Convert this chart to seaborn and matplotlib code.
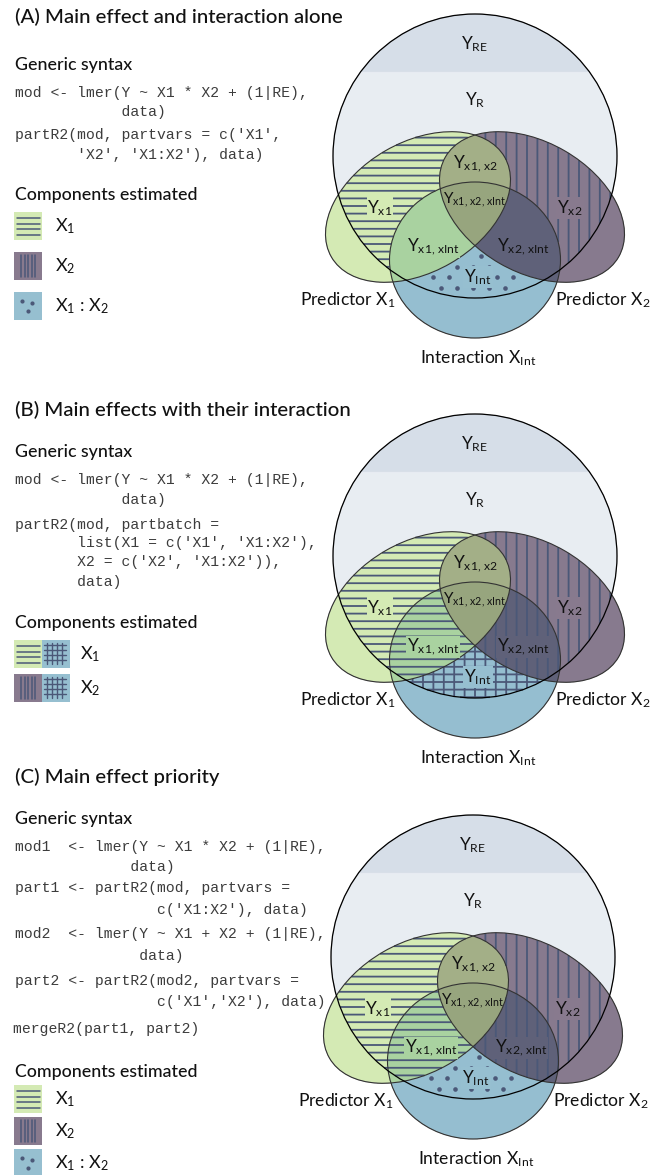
#!/usr/bin/env python3
"""
Venn-style schematic of partR2 variance partitioning with an interaction term.
Three panels: (A) main effects and interaction alone, (B) batches, (C) priority.
"""

import numpy as np
import matplotlib
matplotlib.use('Agg')
import matplotlib.pyplot as plt
from matplotlib.patches import Circle, Ellipse, Rectangle
import seaborn as sns


# ---- text content ----
panel_titles = ['(A) Main effect and interaction alone',
                '(B) Main effects with their interaction',
                '(C) Main effect priority']
head_syntax = 'Generic syntax'
head_components = 'Components estimated'

code_a = ["mod <- lmer(Y ~ X1 * X2 + (1|RE),",
          "            data)",
          "partR2(mod, partvars = c('X1',",
          "       'X2', 'X1:X2'), data)"]
code_b = ["mod <- lmer(Y ~ X1 * X2 + (1|RE),",
          "            data)",
          "partR2(mod, partbatch =",
          "       list(X1 = c('X1', 'X1:X2'),",
          "       X2 = c('X2', 'X1:X2')),",
          "       data)"]
code_c = ["mod1  <- lmer(Y ~ X1 * X2 + (1|RE),",
          "             data)",
          "part1 <- partR2(mod, partvars =",
          "                c('X1:X2'), data)",
          "mod2  <- lmer(Y ~ X1 + X2 + (1|RE),",
          "              data)",
          "part2 <- partR2(mod2, partvars =",
          "                c('X1','X2'), data)",
          "mergeR2(part1, part2)"]

legend_a = ['X$_1$', 'X$_2$', 'X$_1$ : X$_2$']
legend_b = ['X$_1$', 'X$_2$']
legend_c = ['X$_1$', 'X$_2$', 'X$_1$ : X$_2$']
swatch_a = [['h'], ['v'], ['dots']]
swatch_b = [['h', 'grid'], ['v', 'grid']]
swatch_c = [['h'], ['v'], ['dots']]

region_names = ['RE', 'R', 'x1x2', 'x1x2xInt', 'x1', 'x2', 'x1xInt', 'x2xInt', 'Int']
region_text = [r'Y$_\mathrm{RE}$', r'Y$_\mathrm{R}$', r'Y$_\mathrm{x1,\,x2}$',
               r'Y$_\mathrm{x1,\,x2,\,xInt}$', r'Y$_\mathrm{x1}$', r'Y$_\mathrm{x2}$',
               r'Y$_\mathrm{x1,\,xInt}$', r'Y$_\mathrm{x2,\,xInt}$', r'Y$_\mathrm{Int}$']
set_names = ['Predictor X$_1$', 'Predictor X$_2$', 'Interaction X$_\\mathrm{Int}$']

# ---- colours ----
C_WHITE_R = '#e9edf3'
C_RE = '#d7dee8'
FILL = {(1, 0, 0): '#d4eab4', (0, 1, 0): '#887a8e', (0, 0, 1): '#96bfd0',
        (1, 1, 0): '#a3af88', (1, 0, 1): '#a9d2a0', (0, 1, 1): '#5f6179',
        (1, 1, 1): '#97a57f'}
INK = '#4b5878'

# ---- layout (pixels) ----
R = 142
CENTERS = [(475, 156), (475, 556), (473, 957)]
LABEL_OFF = {'RE': (0, -112), 'R': (0, -56), 'x1x2': (0, 8), 'x1x2xInt': (0, 44),
             'x1': (-95, 52), 'x2': (95, 52), 'x1xInt': (-42, 91),
             'x2xInt': (48, 91), 'Int': (3, 121)}
LABEL_KEY = {'x1': (1, 0, 0), 'x2': (0, 1, 0), 'x1xInt': (1, 0, 1),
             'x2xInt': (0, 1, 1), 'Int': (0, 0, 1)}
SET_OFF = [(-127, 144), (128, 144), (3, 202)]

TEXT_Y = [dict(title=17, syntax=65, code=[93, 112, 135, 155], comp=195,
               swatch=[212, 252, 292], legx=55),
          dict(title=410, syntax=452, code=[480, 500, 525, 543, 562, 582], comp=623,
               swatch=[640, 674], legx=80),
          dict(title=777, syntax=819,
               code=[847, 867, 888, 910, 934, 956, 981, 1002, 1029], comp=1072,
               swatch=[1085, 1117, 1149], legx=55)]


def in_ellipse(X, Y, ex, ey, a, b, tilt):
    """Inside test for an ellipse tilted `tilt` degrees (visually, y axis down)."""
    t = np.deg2rad(tilt)
    dx, dy = X - ex, Y - ey
    u = dx * np.cos(t) - dy * np.sin(t)
    v = dx * np.sin(t) + dy * np.cos(t)
    return (u / a) ** 2 + (v / b) ** 2 <= 1


def sets(X, Y, cx, cy):
    circ = (X - cx) ** 2 + (Y - cy) ** 2 <= R ** 2
    g = in_ellipse(X, Y, cx - 57, cy + 51, 100, 65, 30)
    p = in_ellipse(X, Y, cx + 57, cy + 51, 100, 65, -30)
    b = ((X - cx) / 85.5) ** 2 + ((Y - cy - 104) / 78) ** 2 <= 1
    return circ, g, p, b


def hatch_masks(panel, circ, g, p, b):
    """Which regions carry horizontal, vertical and dotted hatching."""
    if panel == 0:
        return circ & g & ~p & ~b, circ & p & ~g & ~b, circ & b & ~g & ~p
    if panel == 1:
        return circ & ~p & (g | b), circ & ~g & (p | b), np.zeros_like(circ)
    return circ & g & ~p, circ & p & ~g, circ & b & ~g & ~p


def draw_venn(ax, panel):
    cx, cy = CENTERS[panel]
    x0, x1, y0, y1 = 315, 642, cy - 146, cy + 188
    step = 0.25
    xs = np.arange(x0, x1, step) + step / 2
    ys = np.arange(y0, y1, step) + step / 2
    X, Y = np.meshgrid(xs, ys)
    circ, g, p, b = sets(X, Y, cx, cy)

    rgba = np.zeros(X.shape + (4,))
    rgba[circ] = matplotlib.colors.to_rgba(C_WHITE_R)
    rgba[circ & (Y < cy - 84)] = matplotlib.colors.to_rgba(C_RE)
    for key, col in FILL.items():
        m = (g == bool(key[0])) & (p == bool(key[1])) & (b == bool(key[2]))
        rgba[m] = matplotlib.colors.to_rgba(col)
    ax.imshow(rgba, extent=(x0, x1, y1, y0), origin='upper',
              interpolation='antialiased', zorder=1)

    # hatching
    hx = np.arange(x0, x1, 0.2)
    for yy in np.arange(cy - 140, cy + 185, 7.6):
        c, gg, pp, bb = sets(hx, np.full_like(hx, yy), cx, cy)
        m = hatch_masks(panel, c, gg, pp, bb)[0]
        ax.plot(np.where(m, hx, np.nan), np.full_like(hx, yy),
                color=INK, lw=1.3, solid_capstyle='butt', zorder=2)
    hy = np.arange(y0, y1, 0.2)
    for xx in np.arange(x0 + 4, x1, 10.4):
        c, gg, pp, bb = sets(np.full_like(hy, xx), hy, cx, cy)
        m = hatch_masks(panel, c, gg, pp, bb)[1]
        ax.plot(np.full_like(hy, xx), np.where(m, hy, np.nan),
                color=INK, lw=1.3, solid_capstyle='butt', zorder=2)
    # dots
    dx_, dy_ = [], []
    for i, yy in enumerate(np.arange(cy + 100, cy + 150, 10.5)):
        for xx in np.arange(cx - 90 + (8 if i % 2 else 0), cx + 90, 16):
            ok = True
            for ox, oy in [(0, 0), (3, 0), (-3, 0), (0, 3), (0, -3)]:
                c, gg, pp, bb = sets(np.array([xx + ox]), np.array([yy + oy]), cx, cy)
                ok &= bool(hatch_masks(panel, c, gg, pp, bb)[2][0])
            if ok:
                dx_.append(xx)
                dy_.append(yy)
    if dx_:
        ax.scatter(dx_, dy_, s=11, color=INK, linewidths=0, zorder=2)

    # outlines
    ax.add_patch(Ellipse((cx - 57, cy + 51), 200, 130, angle=-30, fill=False,
                         ec='#333333', lw=0.8, zorder=3))
    ax.add_patch(Ellipse((cx + 57, cy + 51), 200, 130, angle=30, fill=False,
                         ec='#333333', lw=0.8, zorder=3))
    ax.add_patch(Ellipse((cx, cy + 104), 171, 156, fill=False,
                         ec='#333333', lw=0.8, zorder=3))
    ax.add_patch(Circle((cx, cy), R, fill=False, ec='black', lw=0.9, zorder=3))

    # labels
    for name, txt in zip(region_names, region_text):
        ox, oy = LABEL_OFF[name]
        kw = {}
        if name in LABEL_KEY:
            kw['bbox'] = dict(boxstyle='square,pad=0.05', fc=FILL[LABEL_KEY[name]],
                              ec='none')
        fs = 11 if name == 'x1x2xInt' else 12.5
        ax.text(cx + ox, cy + oy, txt, ha='center', va='center', fontsize=fs,
                color='#111111', zorder=4, **kw)
    for txt, (ox, oy) in zip(set_names, SET_OFF):
        ax.text(cx + ox, cy + oy, txt, ha='center', va='center', fontsize=12.6,
                color='#111111', zorder=4)


def draw_swatch(ax, x, y, kinds):
    size = 28
    for k, kind in enumerate(kinds):
        sx = x + k * size
        if kind == 'h':
            ax.add_patch(Rectangle((sx, y), size, size, fc=FILL[(1, 0, 0)], ec='none'))
            for yy in np.linspace(y + 6, y + size - 5, 4):
                ax.plot([sx + 3, sx + 26], [yy, yy], color=INK, lw=1.1)
        elif kind == 'v':
            ax.add_patch(Rectangle((sx, y), size, size, fc=FILL[(0, 1, 0)], ec='none'))
            for xx in np.linspace(sx + 7, sx + 21, 5):
                ax.plot([xx, xx], [y + 3, y + size - 3], color=INK, lw=1.1)
        elif kind == 'grid':
            ax.add_patch(Rectangle((sx, y), size, size, fc=FILL[(0, 0, 1)], ec='none'))
            for v in np.linspace(5, 20, 4):
                ax.plot([sx + v, sx + v], [y + 3, y + 24], color=INK, lw=1.0)
                ax.plot([sx + 2, sx + 24], [y + v, y + v], color=INK, lw=1.0)
        elif kind == 'dots':
            ax.add_patch(Rectangle((sx, y), size, size, fc=FILL[(0, 0, 1)], ec='none'))
            ax.scatter([sx + 8, sx + 18, sx + 14], [y + 9, y + 11, y + 19], s=9,
                       color=INK, linewidths=0)


def draw_text_block(ax, panel, code, legend, swatches):
    lay = TEXT_Y[panel]
    ax.text(15, lay['title'], panel_titles[panel], fontsize=14.7, fontweight='medium',
            va='center', ha='left', color='#111111')
    ax.text(15, lay['syntax'], head_syntax, fontsize=12.8, fontweight='medium',
            va='center', ha='left', color='#111111')
    for line, y in zip(code, lay['code']):
        x = 13 if line.startswith('merge') else 15
        ax.text(x, y, line, fontsize=10.6, family='Liberation Mono', va='center',
                ha='left', color='#3c3c3c')
    ax.text(15, lay['comp'], head_components, fontsize=12.8, fontweight='medium',
            va='center', ha='left', color='#111111')
    for lab, kinds, y in zip(legend, swatches, lay['swatch']):
        draw_swatch(ax, 14, y, kinds)
        ax.text(lay['legx'], y + 14, lab, fontsize=13, va='center', ha='left',
                color='#111111')


def main():
    sns.set_theme(style='white')
    plt.rcParams['font.family'] = ['Lato', 'DejaVu Sans']
    plt.rcParams['mathtext.fontset'] = 'custom'
    plt.rcParams['mathtext.rm'] = 'Lato'
    plt.rcParams['mathtext.it'] = 'Lato:italic'
    plt.rcParams['mathtext.bf'] = 'Lato:bold'

    fig = plt.figure(figsize=(6.52, 11.75), dpi=100)
    ax = fig.add_axes([0, 0, 1, 1])
    ax.set_xlim(0, 652)
    ax.set_ylim(1175, 0)
    ax.set_aspect('auto')
    ax.axis('off')

    for panel, (code, legend, sw) in enumerate([(code_a, legend_a, swatch_a),
                                                (code_b, legend_b, swatch_b),
                                                (code_c, legend_c, swatch_c)]):
        draw_venn(ax, panel)
        draw_text_block(ax, panel, code, legend, sw)

    fig.savefig('out.png', dpi=100, facecolor='white')
    plt.close(fig)


if __name__ == '__main__':
    main()
